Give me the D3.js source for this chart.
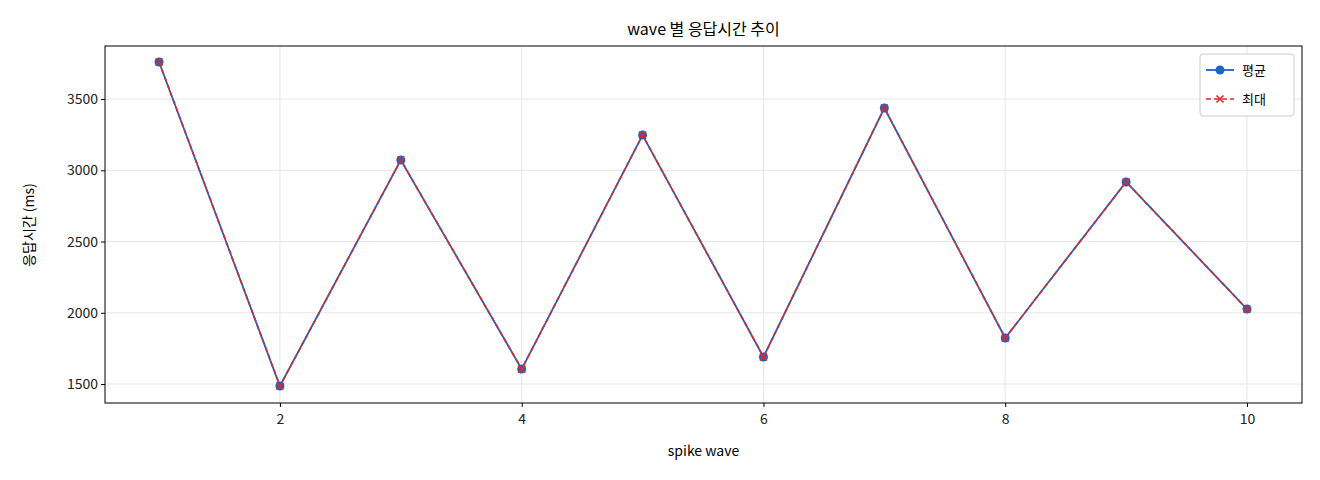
<!DOCTYPE html>
<html><head><meta charset="utf-8">
<script src="https://cdn.jsdelivr.net/npm/d3@7"></script>
<style>body{margin:0;background:#fff}text{font-family:"Noto Sans CJK KR","DejaVu Sans",sans-serif}</style>
</head><body><svg id="c" width="1320" height="480"></svg>
<script>
const waves=[1,2,3,4,5,6,7,8,9,10];
const avgVals=[3760,1486,3072,1605,3247,1690,3437,1823,2918,2026];
const maxVals=[3760,1486,3072,1605,3247,1690,3437,1823,2918,2026];
const xTicks=[2,4,6,8,10];
const yTicks=[1500,2000,2500,3000,3500];
const svg=d3.select("#c");
const L=105,R=1302,T=46,B=403;
const x=d3.scaleLinear().domain([0.553,10.455]).range([L,R]);
const y=d3.scaleLinear().domain([1367,3872]).range([B,T]);
const g=svg.append("g");
g.selectAll(".gx").data(xTicks).enter().append("line").attr("x1",d=>x(d)).attr("x2",d=>x(d)).attr("y1",T).attr("y2",B).attr("stroke","#e6e6e6");
g.selectAll(".gy").data(yTicks).enter().append("line").attr("y1",d=>y(d)).attr("y2",d=>y(d)).attr("x1",L).attr("x2",R).attr("stroke","#e6e6e6");
svg.append("g").attr("transform",`translate(0,${B})`).call(d3.axisBottom(x).tickValues(xTicks).tickFormat(d3.format("d")).tickSize(4).tickSizeOuter(0)).call(a=>{a.select(".domain").remove();a.selectAll("text").attr("font-size",14).attr("fill","#222").attr("dy","1em")});
svg.append("g").attr("transform",`translate(${L},0)`).call(d3.axisLeft(y).tickValues(yTicks).tickFormat(d3.format("d")).tickSize(4).tickSizeOuter(0)).call(a=>{a.select(".domain").remove();a.selectAll("text").attr("font-size",14).attr("fill","#222")});
svg.append("rect").attr("x",L).attr("y",T).attr("width",R-L).attr("height",B-T).attr("fill","none").attr("stroke","#000");
const line=d3.line().x((d,i)=>x(waves[i])).y(d=>y(d));
svg.append("path").datum(avgVals).attr("d",line).attr("fill","none").attr("stroke","#1f63c6").attr("stroke-width",1.8);
svg.selectAll(".dot").data(avgVals).enter().append("circle").attr("cx",(d,i)=>x(waves[i])).attr("cy",d=>y(d)).attr("r",4.5).attr("fill","#1f63c6");
svg.append("path").datum(maxVals).attr("d",line).attr("fill","none").attr("stroke","#d62b2b").attr("stroke-width",1.6).attr("stroke-dasharray","5,3");
const cross=(sel,cx,cy)=>{sel.append("path").attr("d",`M${cx-3.5},${cy-3.5}L${cx+3.5},${cy+3.5}M${cx-3.5},${cy+3.5}L${cx+3.5},${cy-3.5}`).attr("stroke","#d62b2b").attr("stroke-width",1.6);};
maxVals.forEach((d,i)=>cross(svg,x(waves[i]),y(d)));
svg.append("text").attr("x",(L+R)/2).attr("y",35).attr("text-anchor","middle").attr("font-size",16).text("wave 별 응답시간 추이");
svg.append("text").attr("x",(L+R)/2).attr("y",456).attr("text-anchor","middle").attr("font-size",14).text("spike wave");
svg.append("text").attr("transform","translate(34,225) rotate(-90)").attr("text-anchor","middle").attr("font-size",14).text("응답시간 (ms)");
const lg=svg.append("g");
lg.append("rect").attr("x",1200).attr("y",54).attr("width",94).attr("height",62).attr("rx",3).attr("fill","#fff").attr("stroke","#ccc");
lg.append("line").attr("x1",1206).attr("x2",1234).attr("y1",70).attr("y2",70).attr("stroke","#1f63c6").attr("stroke-width",1.8);
lg.append("circle").attr("cx",1220).attr("cy",70).attr("r",4.5).attr("fill","#1f63c6");
lg.append("text").attr("x",1242).attr("y",75).attr("font-size",13).text("평균");
lg.append("line").attr("x1",1206).attr("x2",1234).attr("y1",99).attr("y2",99).attr("stroke","#d62b2b").attr("stroke-width",1.6).attr("stroke-dasharray","5,3");
cross(lg,1220,99);
lg.append("text").attr("x",1242).attr("y",104).attr("font-size",13).text("최대");
</script></body></html>
